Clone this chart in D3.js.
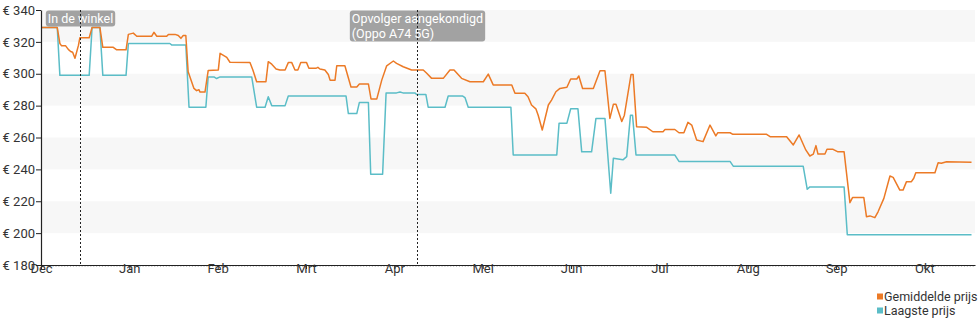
<!DOCTYPE html>
<html>
<head>
<meta charset="utf-8">
<script src="https://cdn.jsdelivr.net/npm/d3@7/dist/d3.min.js"></script>
<style>
  html, body { margin: 0; padding: 0; background: #fff; }
  svg { display: block; font-family: Roboto, "Noto Sans", sans-serif; }
</style>
</head>
<body>
<svg id="chart" width="980" height="325"></svg>
<script>
// Prices over time; x is the day counted from 1 December, months are drawn at equal width.
const DAYS_PER_MONTH = 30.4375;
const monthLabels = ["Dec", "Jan", "Feb", "Mrt", "Apr", "Mei", "Jun", "Jul", "Aug", "Sep", "Okt"];
const yTicks = [180, 200, 220, 240, 260, 280, 300, 320, 340];

// Gemiddelde prijs: [day, euro]
const avgDays = [0, 5.6, 6.5, 7.1, 8.5, 9.4, 10.2, 10.9, 11.7, 12.9, 13.4, 16.6, 17.6, 20.3, 21.3, 24.9, 26.1, 29.3, 30.1, 31.8,
  33.0, 38.1, 38.9, 39.9, 43.3, 43.9, 46.2, 47.3, 48.2, 49.0, 49.9, 50.7, 52.7, 53.6, 54.4, 54.8, 56.5, 57.6, 61.1, 61.7,
  64.0, 65.1, 72.0, 73.0, 74.3, 77.5, 78.3, 79.5, 81.0, 82.3, 84.1, 85.2, 86.4, 87.5, 88.5, 89.5, 91.5, 92.3, 94.7, 95.4,
  96.1, 97.8, 99.0, 99.6, 101.3, 101.9, 104.7, 106.8, 108.8, 109.7, 112.8, 113.7, 115.7, 117.4, 119.1, 121.4, 122.5, 124.8, 127.7, 131.7,
  132.9, 134.6, 138.6, 140.9, 142.3, 144.9, 147.8, 152.4, 154.1, 155.8, 162.2, 163.3, 166.7, 167.8, 169.0, 170.5, 171.3, 172.7, 174.8, 175.9,
  177.4, 178.8, 181.2, 182.5, 184.6, 185.3, 186.6, 190.3, 192.6, 194.3, 196.0, 197.2, 198.1, 200.1, 201.0, 203.3, 204.0, 205.2, 208.7, 210.8,
  214.3, 215.0, 218.4, 219.8, 221.5, 222.9, 224.2, 225.9, 228.1, 230.5, 232.5, 233.2, 237.4, 238.4, 250.0, 251.2, 256.9, 259.2, 261.2, 263.5,
  264.9, 266.1, 267.0, 267.7, 270.1, 270.8, 272.9, 274.6, 276.7, 278.7, 279.6, 283.5, 284.4, 285.6, 287.3, 288.4, 290.4, 292.5, 293.6, 295.9,
  297.0, 298.2, 299.9, 300.7, 301.4, 308.0, 309.1, 310.2, 312.0, 320.6];
const avgPrices = [329, 329, 319, 317.5, 317.5, 315.3, 314, 313.5, 309.7, 317.8, 322.6, 322.6, 329, 329, 316.6, 316.6, 315, 315, 324.7, 325.5,
  323.5, 323.5, 326, 323.5, 323.5, 324.7, 324.7, 324, 322.2, 324, 324, 301.3, 290.8, 289.4, 290, 288.5, 288.5, 302, 302.4, 312.8,
  310.3, 307.2, 307, 302.4, 295, 295, 307.6, 306, 303, 302.4, 302.4, 307, 307, 302.4, 302.4, 307, 307, 303.4, 303.4, 304,
  303, 302.4, 299.5, 296, 296, 305, 305, 291.7, 291.7, 293.6, 293.6, 284.2, 284.2, 296, 305, 308, 306.5, 304.4, 302.4, 302.4,
  300.3, 297.1, 297.1, 302.4, 302.4, 297.1, 295, 295, 299.8, 293, 293, 287.7, 287.7, 285.6, 280.4, 278, 274, 264.7, 280.4, 283.5,
  288.7, 290.8, 291.5, 296.7, 296.7, 298.6, 290.8, 290.8, 301.9, 301.9, 272, 280.8, 280.8, 270, 274, 299.6, 299.6, 266.8, 266.4, 263.6,
  263.6, 265, 265, 263, 263, 269.5, 267.8, 258.4, 257.4, 267.8, 261, 263, 263, 262, 262, 260.5, 260.5, 255.3, 261.6, 252.2,
  248.4, 249.6, 254.9, 249.6, 249.6, 252.6, 252.6, 251, 251, 219.1, 222.3, 222.3, 210.3, 210.8, 209.7, 213.4, 221.8, 235.8, 235, 227,
  227, 232.3, 232.3, 234.4, 237.9, 237.9, 244.2, 243.8, 244.8, 244.5];

// Laagste prijs: [day, euro]
const lowDays = [0, 5.6, 6.5, 16.6, 17.6, 20.3, 21.3, 29.3, 30.1, 44.4, 45.1, 49.9, 51.0, 56.8, 57.6, 59.6, 60.5, 61.7, 72.6, 74.3,
  77.2, 78.3, 79.5, 84.1, 85.2, 105.1, 105.9, 108.8, 109.7, 112.8, 113.6, 117.7, 118.9, 122.5, 123.7, 124.7, 128.8, 129.4, 132.6, 133.4,
  139.2, 140.3, 145.3, 146.1, 147.2, 161.9, 162.7, 177.7, 178.5, 181.2, 182.5, 185.0, 186.3, 189.7, 191.2, 194.3, 196.3, 197.2, 200.5, 201.8,
  203.1, 203.8, 205.0, 218.4, 219.8, 237.4, 238.5, 262.6, 264.0, 264.9, 276.7, 277.8, 320.6];
const lowPrices = [329, 329, 299, 299, 329, 329, 299, 299, 319, 319, 318, 318, 279, 279, 298, 298, 297, 298, 298, 279,
  279, 285.6, 280, 280, 286, 286, 275, 275, 282, 282, 237, 237, 288, 288, 288.6, 288, 288, 287, 287, 279,
  279, 286, 286, 285, 279, 279, 249, 249, 269, 269, 278, 278, 251, 251, 272, 272, 225, 247, 246, 248,
  274, 274, 249, 249, 245, 245, 242, 242, 227.5, 229, 229, 199, 199];

// Annotated events
const eventDays = [13.4, 129.4];
const eventLines = [["In de winkel"], ["Opvolger aangekondigd", "(Oppo A74 5G)"]];

// Shaded value bands [from, to]
const shadedBands = [[320, 340], [280, 300], [240, 260], [200, 220]];

const seriesNames = ["Gemiddelde prijs", "Laagste prijs"];
const seriesColors = ["#ec7a26", "#5bbdc7"];

const svg = d3.select("#chart");
const width = 980;
const x0 = 41, x1 = width - 5;
const yTop = 10, yBottom = 265;

const x = d3.scaleLinear().domain([0, 321.8]).range([x0, x1]);
const y = d3.scaleLinear().domain([180, 340]).range([yBottom, yTop]);

// alternating horizontal bands
svg.append("g").selectAll("rect").data(shadedBands).join("rect")
  .attr("x", x0 + 1).attr("width", x1 - x0 - 1)
  .attr("y", d => y(d[1]))
  .attr("height", d => y(d[0]) - y(d[1]))
  .attr("fill", "#f7f7f7");

// series lines
const line = d3.line().x(d => x(d[0])).y(d => y(d[1]));
const series = [
  d3.zip(avgDays, avgPrices),
  d3.zip(lowDays, lowPrices)
];
// lowest price first so the average sits on top
[1, 0].forEach(i => {
  svg.append("path")
    .datum(series[i])
    .attr("fill", "none")
    .attr("stroke", seriesColors[i])
    .attr("stroke-width", 1.5)
    .attr("stroke-linejoin", "round")
    .attr("d", line);
});

// minor day ticks along the x axis
svg.append("g")
  .attr("transform", `translate(0,${yBottom})`)
  .call(d3.axisBottom(x).tickValues(d3.range(0, 322, 1)).tickSize(2).tickFormat(""))
  .call(g => g.select(".domain").remove())
  .call(g => g.selectAll("line").attr("stroke", "#999").attr("stroke-width", 0.6));

// x axis with month labels
const monthTicks = monthLabels.map((m, i) => i * DAYS_PER_MONTH);
svg.append("g")
  .attr("transform", `translate(0,${yBottom})`)
  .call(d3.axisBottom(x).tickValues(monthTicks).tickSize(4).tickSizeOuter(0)
    .tickFormat((d, i) => monthLabels[i]))
  .call(g => g.select(".domain").attr("stroke", "#222").attr("stroke-width", 1.2))
  .call(g => g.selectAll("line").attr("stroke", "#222"))
  .call(g => g.selectAll("text").attr("dy", "0.55em").attr("y", 1)
    .attr("font-size", 13).attr("fill", "#333").attr("font-family", "Roboto, sans-serif"));

// y axis
svg.append("g")
  .attr("transform", `translate(${x0},0)`)
  .call(d3.axisLeft(y).tickValues(yTicks).tickSize(5).tickSizeOuter(0)
    .tickFormat(d => "€ " + d))
  .call(g => g.select(".domain").attr("stroke", "#222").attr("stroke-width", 1.2))
  .call(g => g.selectAll("line").attr("stroke", "#222"))
  .call(g => g.selectAll("text").attr("x", -6)
    .attr("font-size", 13).attr("fill", "#333").attr("font-family", "Roboto, sans-serif"));

// event markers: label box centred on the date, dotted line drawn over it
eventDays.forEach((d, i) => {
  const cx = Math.round(x(d)) + 0.5;
  const lines = eventLines[i];
  const g = svg.append("g");
  const text = g.append("text")
    .attr("font-size", 12.5)
    .attr("fill", "#fff")
    .attr("font-family", "Roboto, sans-serif")
    .attr("text-anchor", "start");
  const spans = lines.map((t, j) =>
    text.append("tspan").attr("x", 0).attr("y", 23 + j * 15).text(t));
  const w = text.node().getBBox().width;
  spans.forEach(s => s.attr("x", cx - w / 2));
  const bb = text.node().getBBox();
  g.insert("rect", "text")
    .attr("x", bb.x - 2).attr("y", bb.y - 0.5)
    .attr("width", bb.width + 4).attr("height", bb.height + 1)
    .attr("rx", 3)
    .attr("fill", "#8c8c8c").attr("fill-opacity", 0.8);
  svg.append("line")
    .attr("x1", cx).attr("x2", cx)
    .attr("y1", yTop).attr("y2", yBottom)
    .attr("stroke", "#222").attr("stroke-width", 1)
    .attr("stroke-dasharray", "2,2");
});

// legend
const legend = svg.append("g").attr("transform", "translate(877,297)");
seriesNames.forEach((name, i) => {
  const row = legend.append("g").attr("transform", `translate(0,${i * 14})`);
  row.append("rect").attr("x", 0).attr("y", -3.5).attr("width", 6).attr("height", 6)
    .attr("fill", seriesColors[i]);
  row.append("text").attr("x", 7).attr("y", 0).attr("dy", "0.35em")
    .attr("font-size", 12.5).attr("fill", "#333").attr("font-family", "Roboto, sans-serif")
    .text(name);
});
</script>
</body>
</html>
